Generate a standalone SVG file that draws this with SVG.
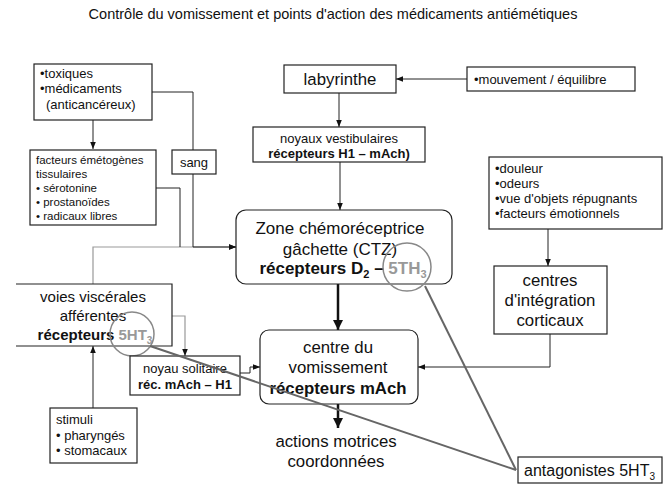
<svg xmlns="http://www.w3.org/2000/svg" width="665" height="486" viewBox="0 0 665 486">
<defs>
<style>
text{font-family:"Liberation Sans",Arial,sans-serif;fill:#111}
.box{fill:#fff;stroke:#222;stroke-width:1.2}
.t{font-size:13px}
.f{font-size:11.5px}
.m{font-size:15px;text-anchor:middle}
.L{font-size:16.8px;text-anchor:middle}
.s{font-size:13px}
.b{font-weight:bold}
.c{fill:none;stroke:#222;stroke-width:1}
.g{fill:none;stroke:#999;stroke-width:1.2}
.k{fill:none;stroke:#111;stroke-width:2.5}
.ant{fill:none;stroke:#666;stroke-width:2}
.gt{fill:#999}
</style>
<marker id="a" viewBox="0 0 10 10" refX="10" refY="5" markerWidth="7" markerHeight="7" orient="auto" markerUnits="userSpaceOnUse"><path d="M0,1 L10,5 L0,9 Z" fill="#111"/></marker>
<marker id="ak" viewBox="0 0 10 10" refX="10" refY="5" markerWidth="4" markerHeight="4" orient="auto"><path d="M0,0 L10,5 L0,10 Z" fill="#111"/></marker>
</defs>
<rect width="665" height="486" fill="#fff"/>
<text x="333" y="19" style="font-size:14.5px;text-anchor:middle">Contrôle du vomissement et points d'action des médicaments antiémétiques</text>

<g id="connectors">
<path class="c" d="M93,120 V149" marker-end="url(#a)"/>
<path class="g" d="M93,284 V247 H236" marker-end="url(#a)"/>
<path class="c" d="M152,92 H193 V150 M193,174 V247 H236" marker-end="url(#a)"/>
<path class="c" d="M156,188 H180 V247"/>
<path class="c" d="M467,79 H396" marker-end="url(#a)"/>
<path class="c" d="M339,93 V127" marker-end="url(#a)"/>
<path class="c" d="M340,162 V210" marker-end="url(#a)"/>
<path class="c" d="M548,229 V266" marker-end="url(#a)"/>
<path class="c" d="M550,334 V367 H418" marker-end="url(#a)"/>
<path class="k" d="M338,284 V330" marker-end="url(#ak)"/>
<path class="k" d="M338,404 V428" marker-end="url(#ak)"/>
<path class="c" d="M93,408 V346" marker-end="url(#a)"/>
<path class="g" d="M172,316 H185 V356" marker-end="url(#a)"/>
<path class="c" d="M240,373 H250 V367 H260" marker-end="url(#a)"/>
</g>

<g id="toxiques">
<rect class="box" x="34" y="64" width="118" height="56"/>
<text class="s" x="40" y="78">•toxiques</text>
<text class="s" x="40" y="93">•médicaments</text>
<text class="s" x="46" y="109">(anticancéreux)</text>
</g>
<g id="sang">
<rect class="box" x="172" y="150" width="44" height="24"/>
<text class="s" x="194" y="167" style="text-anchor:middle">sang</text>
</g>
<g id="facteurs">
<rect class="box" x="30" y="150" width="126" height="75"/>
<text class="f" x="36" y="164">facteurs émétogènes</text>
<text class="f" x="36" y="178">tissulaires</text>
<text class="f" x="36" y="192">• sérotonine</text>
<text class="f" x="36" y="206">• prostanoïdes</text>
<text class="f" x="36" y="220">• radicaux libres</text>
</g>
<g id="labyrinthe">
<rect class="box" x="284" y="65" width="112" height="28"/>
<text class="L" x="340" y="85">labyrinthe</text>
</g>
<g id="mouvement">
<rect class="box" x="467" y="67" width="168" height="24"/>
<text class="t" x="474" y="84">•mouvement / équilibre</text>
</g>
<g id="vestibulaires">
<rect class="box" x="253" y="127" width="172" height="35"/>
<text class="t" x="339" y="143" style="text-anchor:middle">noyaux vestibulaires</text>
<text class="t b" x="339" y="158" style="text-anchor:middle">récepteurs H1 – mAch)</text>
</g>
<g id="douleur">
<rect class="box" x="489" y="157" width="173" height="72"/>
<text class="t" x="495" y="173">•douleur</text>
<text class="t" x="495" y="188">•odeurs</text>
<text class="t" x="495" y="203">•vue d'objets répugnants</text>
<text class="t" x="495" y="218">•facteurs émotionnels</text>
</g>
<g id="ctz">
<rect class="box" x="236" y="210" width="216" height="74" rx="10"/>
<text class="L" x="340" y="234" style="font-size:17px">Zone chémoréceptrice</text>
<text class="L" x="340" y="255" style="font-size:17px">gâchette (CTZ)</text>
<text class="L b" x="343" y="274" style="font-size:17px">récepteurs D<tspan dy="4" style="font-size:11px">2</tspan><tspan dy="-4"> – </tspan><tspan class="gt">5TH</tspan><tspan class="gt" dy="4" style="font-size:11px">3</tspan></text>
<circle cx="407" cy="267" r="24" fill="none" stroke="#888" stroke-width="1.5"/>
</g>
<g id="centres">
<rect class="box" x="494" y="266" width="113" height="68"/>
<text class="L" x="550" y="286">centres</text>
<text class="L" x="550" y="306">d'intégration</text>
<text class="L" x="550" y="326">corticaux</text>
</g>
<g id="voies">
<path class="box" d="M16,284 H172 V346 H16" style="fill:#fff"/>
<text class="m" x="93" y="302">voies viscérales</text>
<text class="m" x="93" y="321">afférentes</text>
<text class="m b" x="95" y="340">récepteurs <tspan class="gt">5HT</tspan><tspan class="gt" dy="4" style="font-size:10px">3</tspan></text>
<circle cx="132" cy="334" r="22" fill="none" stroke="#888" stroke-width="1.5"/>
</g>
<g id="solitaire">
<rect class="box" x="130" y="356" width="110" height="39"/>
<text class="s" x="185" y="373" style="text-anchor:middle">noyau solitaire</text>
<text class="s b" x="185" y="389" style="text-anchor:middle">réc. mAch – H1</text>
</g>
<g id="centre">
<rect class="box" x="260" y="330" width="158" height="74" rx="9"/>
<text class="L" x="338" y="353">centre du</text>
<text class="L" x="338" y="373">vomissement</text>
<text class="L b" x="338" y="394">récepteurs mAch</text>
</g>
<g id="actions">
<text class="L" x="336" y="447">actions motrices</text>
<text class="L" x="336" y="467">coordonnées</text>
</g>
<g id="stimuli">
<rect class="box" x="50" y="408" width="87" height="55"/>
<text class="s" x="56" y="424">stimuli</text>
<text class="s" x="56" y="440">• pharyngés</text>
<text class="s" x="56" y="455">• stomacaux</text>
</g>
<g id="antagonistes-lines">
<path class="ant" d="M150,346 L516,470"/>
<path class="ant" d="M425,286 L516,470"/>
</g>
<g id="antagonistes">
<rect class="box" x="518" y="457" width="144" height="26"/>
<text x="524" y="476" style="font-size:16px">antagonistes 5HT<tspan dy="4" style="font-size:10px">3</tspan></text>
</g>
</svg>
